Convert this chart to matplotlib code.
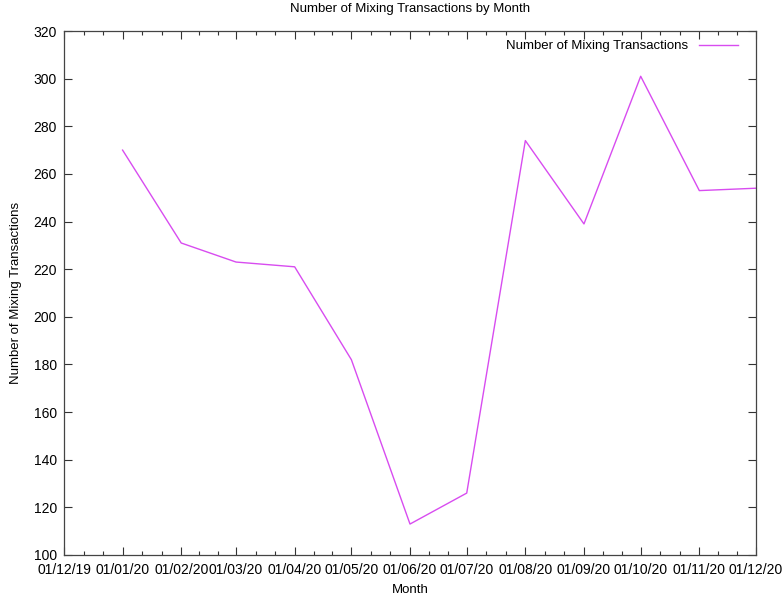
import datetime as dt
import matplotlib
matplotlib.use('Agg')
import matplotlib.pyplot as plt
import matplotlib.dates as mdates

plt.rcParams['font.family'] = ['Liberation Sans', 'DejaVu Sans']

# data
months = ['2020-01-01', '2020-02-01', '2020-03-01', '2020-04-01', '2020-05-01', '2020-06-01',
          '2020-07-01', '2020-08-01', '2020-09-01', '2020-10-01', '2020-11-01', '2020-12-01']
counts = [270, 231, 223, 221, 182, 113, 126, 274, 239, 301, 253, 254]
tick_months = ['2019-12-01'] + months

dates = [dt.datetime.strptime(m, '%Y-%m-%d') for m in months]
tick_dates = [dt.datetime.strptime(m, '%Y-%m-%d') for m in tick_months]

fig = plt.figure(figsize=(7.82, 6.0), dpi=100)
ax = fig.add_axes([0.0818, 0.075, 0.885, 0.8733])

ax.plot(dates, counts, color='#d84cf0', lw=1.0, label='Number of Mixing Transactions')

ax.set_xlim(tick_dates[0], tick_dates[-1])
ax.set_ylim(100, 320)
ax.set_yticks(range(100, 321, 20))
ax.set_xticks(tick_dates)
ax.xaxis.set_major_formatter(mdates.DateFormatter('%d/%m/%y'))

# minor ticks: two between each month
minor = []
for a, b in zip(tick_dates[:-1], tick_dates[1:]):
    step = (b - a) / 3
    minor += [a + step, a + 2 * step]
ax.set_xticks(minor, minor=True)

ax.tick_params(which='both', direction='in', top=True, right=True,
               labelsize=10, colors='#333333', labelcolor='black')
ax.tick_params(which='major', length=6, width=0.8, pad=5)
ax.tick_params(axis='x', which='major', pad=6)
ax.tick_params(which='minor', length=3, width=0.8)
for s in ax.spines.values():
    s.set_color('#444444')
    s.set_linewidth(0.9)

ax.set_title('Number of Mixing Transactions by Month', fontsize=9.5, pad=14)
ax.set_xlabel('Month', fontsize=9.5, labelpad=5)
ax.set_ylabel('Number of Mixing Transactions', fontsize=9.5, labelpad=8)

ax.legend(loc='upper right', bbox_to_anchor=(0.988, 1.0), frameon=False,
          markerfirst=False, fontsize=9.5, handlelength=3.0, borderaxespad=0.3)

fig.savefig('out.png', dpi=100)
